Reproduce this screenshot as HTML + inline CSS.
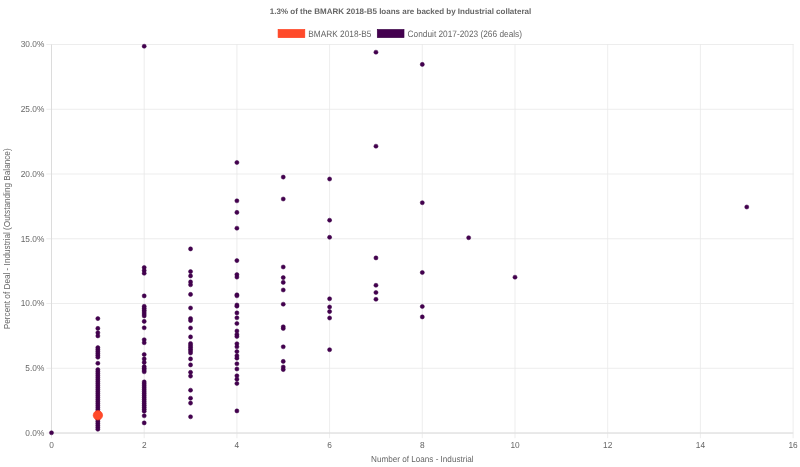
<!DOCTYPE html>
<html><head><meta charset="utf-8"><style>
html,body{margin:0;padding:0;background:#fff;width:800px;height:467px;overflow:hidden}
svg{display:block;filter:blur(0.3px)}
.t{font-family:"Liberation Sans",sans-serif;font-size:8px;fill:#666666;text-rendering:geometricPrecision}
.b{font-weight:bold}
.tk{font-size:8.33px}
</style></head><body>
<svg width="800" height="467" viewBox="0 0 800 467">
<line x1="46.30" y1="433.00" x2="793.60" y2="433.00" stroke="#e9e9e9" stroke-width="0.8"/>
<line x1="46.30" y1="368.25" x2="793.60" y2="368.25" stroke="#e9e9e9" stroke-width="0.8"/>
<line x1="46.30" y1="303.50" x2="793.60" y2="303.50" stroke="#e9e9e9" stroke-width="0.8"/>
<line x1="46.30" y1="238.75" x2="793.60" y2="238.75" stroke="#e9e9e9" stroke-width="0.8"/>
<line x1="46.30" y1="174.00" x2="793.60" y2="174.00" stroke="#e9e9e9" stroke-width="0.8"/>
<line x1="46.30" y1="109.25" x2="793.60" y2="109.25" stroke="#e9e9e9" stroke-width="0.8"/>
<line x1="46.30" y1="44.50" x2="793.60" y2="44.50" stroke="#e9e9e9" stroke-width="0.8"/>
<line x1="51.50" y1="44.10" x2="51.50" y2="438.20" stroke="#e9e9e9" stroke-width="0.8"/>
<line x1="144.20" y1="44.10" x2="144.20" y2="438.20" stroke="#e9e9e9" stroke-width="0.8"/>
<line x1="236.90" y1="44.10" x2="236.90" y2="438.20" stroke="#e9e9e9" stroke-width="0.8"/>
<line x1="329.60" y1="44.10" x2="329.60" y2="438.20" stroke="#e9e9e9" stroke-width="0.8"/>
<line x1="422.30" y1="44.10" x2="422.30" y2="438.20" stroke="#e9e9e9" stroke-width="0.8"/>
<line x1="515.00" y1="44.10" x2="515.00" y2="438.20" stroke="#e9e9e9" stroke-width="0.8"/>
<line x1="607.70" y1="44.10" x2="607.70" y2="438.20" stroke="#e9e9e9" stroke-width="0.8"/>
<line x1="700.40" y1="44.10" x2="700.40" y2="438.20" stroke="#e9e9e9" stroke-width="0.8"/>
<line x1="793.10" y1="44.10" x2="793.10" y2="438.20" stroke="#e9e9e9" stroke-width="0.8"/>
<line x1="51.50" y1="44.50" x2="51.50" y2="433.00" stroke="#dcdcdc" stroke-width="1"/>
<line x1="51.50" y1="433.00" x2="793.10" y2="433.00" stroke="#dcdcdc" stroke-width="1"/>
<text transform="translate(44.3,435.95) scale(1,1.05)" text-anchor="end" class="t tk">0.0%</text>
<text transform="translate(44.3,371.20) scale(1,1.05)" text-anchor="end" class="t tk">5.0%</text>
<text transform="translate(44.3,306.45) scale(1,1.05)" text-anchor="end" class="t tk">10.0%</text>
<text transform="translate(44.3,241.70) scale(1,1.05)" text-anchor="end" class="t tk">15.0%</text>
<text transform="translate(44.3,176.95) scale(1,1.05)" text-anchor="end" class="t tk">20.0%</text>
<text transform="translate(44.3,112.20) scale(1,1.05)" text-anchor="end" class="t tk">25.0%</text>
<text transform="translate(44.3,47.45) scale(1,1.05)" text-anchor="end" class="t tk">30.0%</text>
<text transform="translate(51.50,447.8) scale(1,1.05)" text-anchor="middle" class="t tk">0</text>
<text transform="translate(144.20,447.8) scale(1,1.05)" text-anchor="middle" class="t tk">2</text>
<text transform="translate(236.90,447.8) scale(1,1.05)" text-anchor="middle" class="t tk">4</text>
<text transform="translate(329.60,447.8) scale(1,1.05)" text-anchor="middle" class="t tk">6</text>
<text transform="translate(422.30,447.8) scale(1,1.05)" text-anchor="middle" class="t tk">8</text>
<text transform="translate(515.00,447.8) scale(1,1.05)" text-anchor="middle" class="t tk">10</text>
<text transform="translate(607.70,447.8) scale(1,1.05)" text-anchor="middle" class="t tk">12</text>
<text transform="translate(700.40,447.8) scale(1,1.05)" text-anchor="middle" class="t tk">14</text>
<text transform="translate(793.10,447.8) scale(1,1.05)" text-anchor="middle" class="t tk">16</text>
<text x="400.5" y="14.3" text-anchor="middle" class="t b">1.3% of the BMARK 2018-B5 loans are backed by Industrial collateral</text>
<text transform="translate(422.30,462) scale(1,1.07)" text-anchor="middle" class="t" style="font-size:8.15px">Number of Loans - Industrial</text>
<text transform="translate(10.4,238.75) rotate(-90) scale(1,1.04)" text-anchor="middle" class="t" style="font-size:8.2px;text-rendering:optimizeLegibility">Percent of Deal - Industrial (Outstanding Balance)</text>
<rect x="278.1" y="29.5" width="26.7" height="8.1" fill="#ff4a2a" stroke="#ff3c1c" stroke-width="0.67"/>
<text transform="translate(308.3,36.6) scale(1,1.11)" class="t" style="font-size:8.3px">BMARK 2018-B5</text>
<rect x="377.3" y="29.5" width="26.7" height="8.1" fill="#44004f" stroke="#3a0046" stroke-width="0.67"/>
<text transform="translate(407.6,36.6) scale(1,1.11)" class="t" style="font-size:8.3px">Conduit 2017-2023 (266 deals)</text>
<circle cx="51.50" cy="432.80" r="2.05" fill="#44004f" stroke="#3a0046" stroke-width="0.5"/>
<circle cx="97.85" cy="318.60" r="2.05" fill="#44004f" stroke="#3a0046" stroke-width="0.5"/>
<circle cx="97.85" cy="328.40" r="2.05" fill="#44004f" stroke="#3a0046" stroke-width="0.5"/>
<circle cx="97.85" cy="332.70" r="2.05" fill="#44004f" stroke="#3a0046" stroke-width="0.5"/>
<circle cx="97.85" cy="335.90" r="2.05" fill="#44004f" stroke="#3a0046" stroke-width="0.5"/>
<circle cx="97.85" cy="347.60" r="2.05" fill="#44004f" stroke="#3a0046" stroke-width="0.5"/>
<circle cx="97.85" cy="349.54" r="2.05" fill="#44004f" stroke="#3a0046" stroke-width="0.5"/>
<circle cx="97.85" cy="351.48" r="2.05" fill="#44004f" stroke="#3a0046" stroke-width="0.5"/>
<circle cx="97.85" cy="353.42" r="2.05" fill="#44004f" stroke="#3a0046" stroke-width="0.5"/>
<circle cx="97.85" cy="355.36" r="2.05" fill="#44004f" stroke="#3a0046" stroke-width="0.5"/>
<circle cx="97.85" cy="357.30" r="2.05" fill="#44004f" stroke="#3a0046" stroke-width="0.5"/>
<circle cx="97.85" cy="363.30" r="2.05" fill="#44004f" stroke="#3a0046" stroke-width="0.5"/>
<circle cx="97.85" cy="369.60" r="2.05" fill="#44004f" stroke="#3a0046" stroke-width="0.5"/>
<circle cx="97.85" cy="371.59" r="2.05" fill="#44004f" stroke="#3a0046" stroke-width="0.5"/>
<circle cx="97.85" cy="373.58" r="2.05" fill="#44004f" stroke="#3a0046" stroke-width="0.5"/>
<circle cx="97.85" cy="375.57" r="2.05" fill="#44004f" stroke="#3a0046" stroke-width="0.5"/>
<circle cx="97.85" cy="377.56" r="2.05" fill="#44004f" stroke="#3a0046" stroke-width="0.5"/>
<circle cx="97.85" cy="379.55" r="2.05" fill="#44004f" stroke="#3a0046" stroke-width="0.5"/>
<circle cx="97.85" cy="381.54" r="2.05" fill="#44004f" stroke="#3a0046" stroke-width="0.5"/>
<circle cx="97.85" cy="383.53" r="2.05" fill="#44004f" stroke="#3a0046" stroke-width="0.5"/>
<circle cx="97.85" cy="385.52" r="2.05" fill="#44004f" stroke="#3a0046" stroke-width="0.5"/>
<circle cx="97.85" cy="387.51" r="2.05" fill="#44004f" stroke="#3a0046" stroke-width="0.5"/>
<circle cx="97.85" cy="389.50" r="2.05" fill="#44004f" stroke="#3a0046" stroke-width="0.5"/>
<circle cx="97.85" cy="391.49" r="2.05" fill="#44004f" stroke="#3a0046" stroke-width="0.5"/>
<circle cx="97.85" cy="393.48" r="2.05" fill="#44004f" stroke="#3a0046" stroke-width="0.5"/>
<circle cx="97.85" cy="395.47" r="2.05" fill="#44004f" stroke="#3a0046" stroke-width="0.5"/>
<circle cx="97.85" cy="397.46" r="2.05" fill="#44004f" stroke="#3a0046" stroke-width="0.5"/>
<circle cx="97.85" cy="399.45" r="2.05" fill="#44004f" stroke="#3a0046" stroke-width="0.5"/>
<circle cx="97.85" cy="401.44" r="2.05" fill="#44004f" stroke="#3a0046" stroke-width="0.5"/>
<circle cx="97.85" cy="403.43" r="2.05" fill="#44004f" stroke="#3a0046" stroke-width="0.5"/>
<circle cx="97.85" cy="405.42" r="2.05" fill="#44004f" stroke="#3a0046" stroke-width="0.5"/>
<circle cx="97.85" cy="407.41" r="2.05" fill="#44004f" stroke="#3a0046" stroke-width="0.5"/>
<circle cx="97.85" cy="409.40" r="2.05" fill="#44004f" stroke="#3a0046" stroke-width="0.5"/>
<circle cx="97.85" cy="411.39" r="2.05" fill="#44004f" stroke="#3a0046" stroke-width="0.5"/>
<circle cx="97.85" cy="413.38" r="2.05" fill="#44004f" stroke="#3a0046" stroke-width="0.5"/>
<circle cx="97.85" cy="415.37" r="2.05" fill="#44004f" stroke="#3a0046" stroke-width="0.5"/>
<circle cx="97.85" cy="417.36" r="2.05" fill="#44004f" stroke="#3a0046" stroke-width="0.5"/>
<circle cx="97.85" cy="419.35" r="2.05" fill="#44004f" stroke="#3a0046" stroke-width="0.5"/>
<circle cx="97.85" cy="421.34" r="2.05" fill="#44004f" stroke="#3a0046" stroke-width="0.5"/>
<circle cx="97.85" cy="423.33" r="2.05" fill="#44004f" stroke="#3a0046" stroke-width="0.5"/>
<circle cx="97.85" cy="425.32" r="2.05" fill="#44004f" stroke="#3a0046" stroke-width="0.5"/>
<circle cx="97.85" cy="427.31" r="2.05" fill="#44004f" stroke="#3a0046" stroke-width="0.5"/>
<circle cx="97.85" cy="429.30" r="2.05" fill="#44004f" stroke="#3a0046" stroke-width="0.5"/>
<circle cx="144.20" cy="46.24" r="2.05" fill="#44004f" stroke="#3a0046" stroke-width="0.5"/>
<circle cx="144.20" cy="267.50" r="2.05" fill="#44004f" stroke="#3a0046" stroke-width="0.5"/>
<circle cx="144.20" cy="270.50" r="2.05" fill="#44004f" stroke="#3a0046" stroke-width="0.5"/>
<circle cx="144.20" cy="273.30" r="2.05" fill="#44004f" stroke="#3a0046" stroke-width="0.5"/>
<circle cx="144.20" cy="295.90" r="2.05" fill="#44004f" stroke="#3a0046" stroke-width="0.5"/>
<circle cx="144.20" cy="306.30" r="2.05" fill="#44004f" stroke="#3a0046" stroke-width="0.5"/>
<circle cx="144.20" cy="308.22" r="2.05" fill="#44004f" stroke="#3a0046" stroke-width="0.5"/>
<circle cx="144.20" cy="310.14" r="2.05" fill="#44004f" stroke="#3a0046" stroke-width="0.5"/>
<circle cx="144.20" cy="312.06" r="2.05" fill="#44004f" stroke="#3a0046" stroke-width="0.5"/>
<circle cx="144.20" cy="313.98" r="2.05" fill="#44004f" stroke="#3a0046" stroke-width="0.5"/>
<circle cx="144.20" cy="315.90" r="2.05" fill="#44004f" stroke="#3a0046" stroke-width="0.5"/>
<circle cx="144.20" cy="321.40" r="2.05" fill="#44004f" stroke="#3a0046" stroke-width="0.5"/>
<circle cx="144.20" cy="327.80" r="2.05" fill="#44004f" stroke="#3a0046" stroke-width="0.5"/>
<circle cx="144.20" cy="339.70" r="2.05" fill="#44004f" stroke="#3a0046" stroke-width="0.5"/>
<circle cx="144.20" cy="342.70" r="2.05" fill="#44004f" stroke="#3a0046" stroke-width="0.5"/>
<circle cx="144.20" cy="354.50" r="2.05" fill="#44004f" stroke="#3a0046" stroke-width="0.5"/>
<circle cx="144.20" cy="358.90" r="2.05" fill="#44004f" stroke="#3a0046" stroke-width="0.5"/>
<circle cx="144.20" cy="362.40" r="2.05" fill="#44004f" stroke="#3a0046" stroke-width="0.5"/>
<circle cx="144.20" cy="366.60" r="2.05" fill="#44004f" stroke="#3a0046" stroke-width="0.5"/>
<circle cx="144.20" cy="368.33" r="2.05" fill="#44004f" stroke="#3a0046" stroke-width="0.5"/>
<circle cx="144.20" cy="370.07" r="2.05" fill="#44004f" stroke="#3a0046" stroke-width="0.5"/>
<circle cx="144.20" cy="371.80" r="2.05" fill="#44004f" stroke="#3a0046" stroke-width="0.5"/>
<circle cx="144.20" cy="381.90" r="2.05" fill="#44004f" stroke="#3a0046" stroke-width="0.5"/>
<circle cx="144.20" cy="383.85" r="2.05" fill="#44004f" stroke="#3a0046" stroke-width="0.5"/>
<circle cx="144.20" cy="385.81" r="2.05" fill="#44004f" stroke="#3a0046" stroke-width="0.5"/>
<circle cx="144.20" cy="387.76" r="2.05" fill="#44004f" stroke="#3a0046" stroke-width="0.5"/>
<circle cx="144.20" cy="389.71" r="2.05" fill="#44004f" stroke="#3a0046" stroke-width="0.5"/>
<circle cx="144.20" cy="391.67" r="2.05" fill="#44004f" stroke="#3a0046" stroke-width="0.5"/>
<circle cx="144.20" cy="393.62" r="2.05" fill="#44004f" stroke="#3a0046" stroke-width="0.5"/>
<circle cx="144.20" cy="395.57" r="2.05" fill="#44004f" stroke="#3a0046" stroke-width="0.5"/>
<circle cx="144.20" cy="397.53" r="2.05" fill="#44004f" stroke="#3a0046" stroke-width="0.5"/>
<circle cx="144.20" cy="399.48" r="2.05" fill="#44004f" stroke="#3a0046" stroke-width="0.5"/>
<circle cx="144.20" cy="401.43" r="2.05" fill="#44004f" stroke="#3a0046" stroke-width="0.5"/>
<circle cx="144.20" cy="403.39" r="2.05" fill="#44004f" stroke="#3a0046" stroke-width="0.5"/>
<circle cx="144.20" cy="405.34" r="2.05" fill="#44004f" stroke="#3a0046" stroke-width="0.5"/>
<circle cx="144.20" cy="407.29" r="2.05" fill="#44004f" stroke="#3a0046" stroke-width="0.5"/>
<circle cx="144.20" cy="409.25" r="2.05" fill="#44004f" stroke="#3a0046" stroke-width="0.5"/>
<circle cx="144.20" cy="411.20" r="2.05" fill="#44004f" stroke="#3a0046" stroke-width="0.5"/>
<circle cx="144.20" cy="415.80" r="2.05" fill="#44004f" stroke="#3a0046" stroke-width="0.5"/>
<circle cx="144.20" cy="422.90" r="2.05" fill="#44004f" stroke="#3a0046" stroke-width="0.5"/>
<circle cx="190.55" cy="248.90" r="2.05" fill="#44004f" stroke="#3a0046" stroke-width="0.5"/>
<circle cx="190.55" cy="271.60" r="2.05" fill="#44004f" stroke="#3a0046" stroke-width="0.5"/>
<circle cx="190.55" cy="275.90" r="2.05" fill="#44004f" stroke="#3a0046" stroke-width="0.5"/>
<circle cx="190.55" cy="281.90" r="2.05" fill="#44004f" stroke="#3a0046" stroke-width="0.5"/>
<circle cx="190.55" cy="284.80" r="2.05" fill="#44004f" stroke="#3a0046" stroke-width="0.5"/>
<circle cx="190.55" cy="294.40" r="2.05" fill="#44004f" stroke="#3a0046" stroke-width="0.5"/>
<circle cx="190.55" cy="308.00" r="2.05" fill="#44004f" stroke="#3a0046" stroke-width="0.5"/>
<circle cx="190.55" cy="318.50" r="2.05" fill="#44004f" stroke="#3a0046" stroke-width="0.5"/>
<circle cx="190.55" cy="320.60" r="2.05" fill="#44004f" stroke="#3a0046" stroke-width="0.5"/>
<circle cx="190.55" cy="328.00" r="2.05" fill="#44004f" stroke="#3a0046" stroke-width="0.5"/>
<circle cx="190.55" cy="336.90" r="2.05" fill="#44004f" stroke="#3a0046" stroke-width="0.5"/>
<circle cx="190.55" cy="343.50" r="2.05" fill="#44004f" stroke="#3a0046" stroke-width="0.5"/>
<circle cx="190.55" cy="345.40" r="2.05" fill="#44004f" stroke="#3a0046" stroke-width="0.5"/>
<circle cx="190.55" cy="347.30" r="2.05" fill="#44004f" stroke="#3a0046" stroke-width="0.5"/>
<circle cx="190.55" cy="349.20" r="2.05" fill="#44004f" stroke="#3a0046" stroke-width="0.5"/>
<circle cx="190.55" cy="351.10" r="2.05" fill="#44004f" stroke="#3a0046" stroke-width="0.5"/>
<circle cx="190.55" cy="353.00" r="2.05" fill="#44004f" stroke="#3a0046" stroke-width="0.5"/>
<circle cx="190.55" cy="358.90" r="2.05" fill="#44004f" stroke="#3a0046" stroke-width="0.5"/>
<circle cx="190.55" cy="364.90" r="2.05" fill="#44004f" stroke="#3a0046" stroke-width="0.5"/>
<circle cx="190.55" cy="372.30" r="2.05" fill="#44004f" stroke="#3a0046" stroke-width="0.5"/>
<circle cx="190.55" cy="376.10" r="2.05" fill="#44004f" stroke="#3a0046" stroke-width="0.5"/>
<circle cx="190.55" cy="390.20" r="2.05" fill="#44004f" stroke="#3a0046" stroke-width="0.5"/>
<circle cx="190.55" cy="398.20" r="2.05" fill="#44004f" stroke="#3a0046" stroke-width="0.5"/>
<circle cx="190.55" cy="403.10" r="2.05" fill="#44004f" stroke="#3a0046" stroke-width="0.5"/>
<circle cx="190.55" cy="416.80" r="2.05" fill="#44004f" stroke="#3a0046" stroke-width="0.5"/>
<circle cx="236.90" cy="162.50" r="2.05" fill="#44004f" stroke="#3a0046" stroke-width="0.5"/>
<circle cx="236.90" cy="200.80" r="2.05" fill="#44004f" stroke="#3a0046" stroke-width="0.5"/>
<circle cx="236.90" cy="212.40" r="2.05" fill="#44004f" stroke="#3a0046" stroke-width="0.5"/>
<circle cx="236.90" cy="228.20" r="2.05" fill="#44004f" stroke="#3a0046" stroke-width="0.5"/>
<circle cx="236.90" cy="260.60" r="2.05" fill="#44004f" stroke="#3a0046" stroke-width="0.5"/>
<circle cx="236.90" cy="274.60" r="2.05" fill="#44004f" stroke="#3a0046" stroke-width="0.5"/>
<circle cx="236.90" cy="277.10" r="2.05" fill="#44004f" stroke="#3a0046" stroke-width="0.5"/>
<circle cx="236.90" cy="294.80" r="2.05" fill="#44004f" stroke="#3a0046" stroke-width="0.5"/>
<circle cx="236.90" cy="295.80" r="2.05" fill="#44004f" stroke="#3a0046" stroke-width="0.5"/>
<circle cx="236.90" cy="305.00" r="2.05" fill="#44004f" stroke="#3a0046" stroke-width="0.5"/>
<circle cx="236.90" cy="306.20" r="2.05" fill="#44004f" stroke="#3a0046" stroke-width="0.5"/>
<circle cx="236.90" cy="312.90" r="2.05" fill="#44004f" stroke="#3a0046" stroke-width="0.5"/>
<circle cx="236.90" cy="317.80" r="2.05" fill="#44004f" stroke="#3a0046" stroke-width="0.5"/>
<circle cx="236.90" cy="323.50" r="2.05" fill="#44004f" stroke="#3a0046" stroke-width="0.5"/>
<circle cx="236.90" cy="331.00" r="2.05" fill="#44004f" stroke="#3a0046" stroke-width="0.5"/>
<circle cx="236.90" cy="334.50" r="2.05" fill="#44004f" stroke="#3a0046" stroke-width="0.5"/>
<circle cx="236.90" cy="336.50" r="2.05" fill="#44004f" stroke="#3a0046" stroke-width="0.5"/>
<circle cx="236.90" cy="343.70" r="2.05" fill="#44004f" stroke="#3a0046" stroke-width="0.5"/>
<circle cx="236.90" cy="346.80" r="2.05" fill="#44004f" stroke="#3a0046" stroke-width="0.5"/>
<circle cx="236.90" cy="351.60" r="2.05" fill="#44004f" stroke="#3a0046" stroke-width="0.5"/>
<circle cx="236.90" cy="355.80" r="2.05" fill="#44004f" stroke="#3a0046" stroke-width="0.5"/>
<circle cx="236.90" cy="358.20" r="2.05" fill="#44004f" stroke="#3a0046" stroke-width="0.5"/>
<circle cx="236.90" cy="363.80" r="2.05" fill="#44004f" stroke="#3a0046" stroke-width="0.5"/>
<circle cx="236.90" cy="369.00" r="2.05" fill="#44004f" stroke="#3a0046" stroke-width="0.5"/>
<circle cx="236.90" cy="375.80" r="2.05" fill="#44004f" stroke="#3a0046" stroke-width="0.5"/>
<circle cx="236.90" cy="379.20" r="2.05" fill="#44004f" stroke="#3a0046" stroke-width="0.5"/>
<circle cx="236.90" cy="383.50" r="2.05" fill="#44004f" stroke="#3a0046" stroke-width="0.5"/>
<circle cx="236.90" cy="410.90" r="2.05" fill="#44004f" stroke="#3a0046" stroke-width="0.5"/>
<circle cx="283.25" cy="177.10" r="2.05" fill="#44004f" stroke="#3a0046" stroke-width="0.5"/>
<circle cx="283.25" cy="199.00" r="2.05" fill="#44004f" stroke="#3a0046" stroke-width="0.5"/>
<circle cx="283.25" cy="267.00" r="2.05" fill="#44004f" stroke="#3a0046" stroke-width="0.5"/>
<circle cx="283.25" cy="277.60" r="2.05" fill="#44004f" stroke="#3a0046" stroke-width="0.5"/>
<circle cx="283.25" cy="282.40" r="2.05" fill="#44004f" stroke="#3a0046" stroke-width="0.5"/>
<circle cx="283.25" cy="290.00" r="2.05" fill="#44004f" stroke="#3a0046" stroke-width="0.5"/>
<circle cx="283.25" cy="304.20" r="2.05" fill="#44004f" stroke="#3a0046" stroke-width="0.5"/>
<circle cx="283.25" cy="326.80" r="2.05" fill="#44004f" stroke="#3a0046" stroke-width="0.5"/>
<circle cx="283.25" cy="328.50" r="2.05" fill="#44004f" stroke="#3a0046" stroke-width="0.5"/>
<circle cx="283.25" cy="346.80" r="2.05" fill="#44004f" stroke="#3a0046" stroke-width="0.5"/>
<circle cx="283.25" cy="361.40" r="2.05" fill="#44004f" stroke="#3a0046" stroke-width="0.5"/>
<circle cx="283.25" cy="367.00" r="2.05" fill="#44004f" stroke="#3a0046" stroke-width="0.5"/>
<circle cx="283.25" cy="369.60" r="2.05" fill="#44004f" stroke="#3a0046" stroke-width="0.5"/>
<circle cx="329.60" cy="179.00" r="2.05" fill="#44004f" stroke="#3a0046" stroke-width="0.5"/>
<circle cx="329.60" cy="220.20" r="2.05" fill="#44004f" stroke="#3a0046" stroke-width="0.5"/>
<circle cx="329.60" cy="237.30" r="2.05" fill="#44004f" stroke="#3a0046" stroke-width="0.5"/>
<circle cx="329.60" cy="298.80" r="2.05" fill="#44004f" stroke="#3a0046" stroke-width="0.5"/>
<circle cx="329.60" cy="307.00" r="2.05" fill="#44004f" stroke="#3a0046" stroke-width="0.5"/>
<circle cx="329.60" cy="311.60" r="2.05" fill="#44004f" stroke="#3a0046" stroke-width="0.5"/>
<circle cx="329.60" cy="318.00" r="2.05" fill="#44004f" stroke="#3a0046" stroke-width="0.5"/>
<circle cx="329.60" cy="349.70" r="2.05" fill="#44004f" stroke="#3a0046" stroke-width="0.5"/>
<circle cx="375.95" cy="52.20" r="2.05" fill="#44004f" stroke="#3a0046" stroke-width="0.5"/>
<circle cx="375.95" cy="146.20" r="2.05" fill="#44004f" stroke="#3a0046" stroke-width="0.5"/>
<circle cx="375.95" cy="257.90" r="2.05" fill="#44004f" stroke="#3a0046" stroke-width="0.5"/>
<circle cx="375.95" cy="285.30" r="2.05" fill="#44004f" stroke="#3a0046" stroke-width="0.5"/>
<circle cx="375.95" cy="292.50" r="2.05" fill="#44004f" stroke="#3a0046" stroke-width="0.5"/>
<circle cx="375.95" cy="299.30" r="2.05" fill="#44004f" stroke="#3a0046" stroke-width="0.5"/>
<circle cx="422.30" cy="64.40" r="2.05" fill="#44004f" stroke="#3a0046" stroke-width="0.5"/>
<circle cx="422.30" cy="202.70" r="2.05" fill="#44004f" stroke="#3a0046" stroke-width="0.5"/>
<circle cx="422.30" cy="272.50" r="2.05" fill="#44004f" stroke="#3a0046" stroke-width="0.5"/>
<circle cx="422.30" cy="306.50" r="2.05" fill="#44004f" stroke="#3a0046" stroke-width="0.5"/>
<circle cx="422.30" cy="316.90" r="2.05" fill="#44004f" stroke="#3a0046" stroke-width="0.5"/>
<circle cx="468.65" cy="237.70" r="2.05" fill="#44004f" stroke="#3a0046" stroke-width="0.5"/>
<circle cx="515.00" cy="277.20" r="2.05" fill="#44004f" stroke="#3a0046" stroke-width="0.5"/>
<circle cx="746.75" cy="207.00" r="2.05" fill="#44004f" stroke="#3a0046" stroke-width="0.5"/>
<circle cx="97.9" cy="415.3" r="4.7" fill="#ff4a2a" stroke="#ff3c1c" stroke-width="0.6"/>
</svg>
</body></html>
